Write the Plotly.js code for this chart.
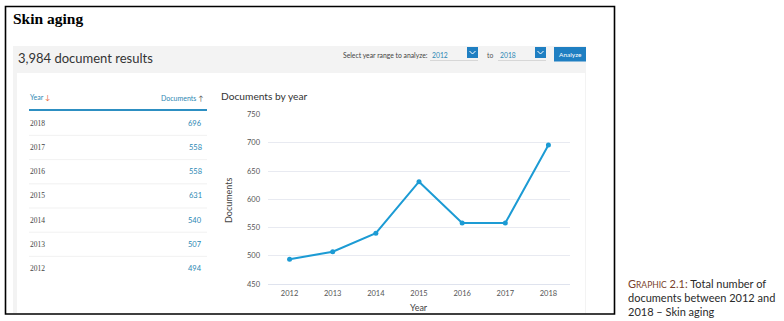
<!DOCTYPE html>
<html>
<head>
<meta charset="utf-8">
<script src="https://cdn.plot.ly/plotly-3.0.1.min.js"></script>
<style>
  html, body { margin: 0; padding: 0; background: #ffffff; }
  #chart { width: 784px; height: 321px; }
</style>
</head>
<body>
<div id="chart"></div>
<script>
// ---- data ----
const pageTitle = "Skin aging";
const resultsText = "3,984 document results";
const years = [2012, 2013, 2014, 2015, 2016, 2017, 2018];
const documents = [494, 507, 540, 631, 558, 558, 696];
const yTickVals = [450, 500, 550, 600, 650, 700, 750];
const rangeFrom = "2012";
const rangeTo = "2018";
const chartTitle = "Documents by year";
const xTitle = "Year";
const yTitle = "Documents";
const captionLabel = "G<span style='font-size:8.5px'>RAPHIC</span> 2.1:";
const captionLines = ["Total number of", "documents between 2012 and", "2018 – Skin aging"];

// ---- helpers (pixel -> paper) ----
const W = 784, H = 321;
const px = x => x / W;
const py = y => 1 - y / H;

const SANS = "Lato, 'Noto Sans', sans-serif";
const BLUE_TXT = "#2b87b3";

const shapes = [];
const annotations = [];

function rect(x0, y0, x1, y1, fill, line, lw) {
  shapes.push({type: "rect", xref: "paper", yref: "paper", layer: "below",
    x0: px(x0), x1: px(x1), y0: py(y1), y1: py(y0),
    fillcolor: fill, line: {color: line || "rgba(0,0,0,0)", width: lw || 0}});
}
function hline(x0, x1, y, color, w) {
  shapes.push({type: "line", xref: "paper", yref: "paper", layer: "below",
    x0: px(x0), x1: px(x1), y0: py(y), y1: py(y), line: {color: color, width: w}});
}
function chevron(cx, cy) {
  shapes.push({type: "path", xref: "paper", yref: "paper", layer: "above",
    path: `M ${px(cx - 3)} ${py(cy - 1.5)} L ${px(cx)} ${py(cy + 1.5)} L ${px(cx + 3)} ${py(cy - 1.5)}`,
    line: {color: "#ffffff", width: 1}});
}
function text(str, x, y, opts) {
  opts = opts || {};
  const xa = opts.xanchor || "left";
  const dx = xa === "left" ? -1.5 : (xa === "right" ? 1.5 : 0);
  annotations.push(Object.assign({
    xref: "paper", yref: "paper", x: px(x + dx), y: py(y), text: str, showarrow: false,
    xanchor: "left", yanchor: "middle",
    font: {family: SANS, size: 8, color: "#444"}
  }, opts));
}

// outer frame
rect(5.5, 6.5, 614.5, 314, "rgba(0,0,0,0)", "#000000", 1.6);
// grey panel + white card
rect(13, 46, 586, 313, "#f3f3f3");
rect(17, 73, 585, 313, "#ffffff");

// page title
text(pageTitle, 12, 18, {font: {family: "'Liberation Serif', 'Times New Roman', serif", size: 15.5, color: "#000", weight: "bold"}});
// results header
text(resultsText, 17, 58.5, {font: {family: SANS, size: 13, color: "#333"}});

// year range controls
text("Select year range to analyze:", 342, 55, {font: {family: SANS, size: 6.8, color: "#444"}});
text(rangeFrom, 431, 55, {font: {family: SANS, size: 6.8, color: BLUE_TXT}});
hline(430, 478, 60.5, "#cfcfcf", 0.8);
rect(467, 47, 478, 58, "#1f7fc2");
chevron(472.5, 52.5);
text("to", 486, 55, {font: {family: SANS, size: 6.8, color: "#555"}});
text(rangeTo, 499, 55, {font: {family: SANS, size: 6.8, color: BLUE_TXT}});
hline(498, 546, 60.5, "#cfcfcf", 0.8);
rect(535, 47, 546, 58, "#1f7fc2");
chevron(540.5, 52.5);
rect(554, 47, 586, 61.5, "#1f7fc2");
text("Analyze", 570, 54.5, {xanchor: "center", font: {family: SANS, size: 6.5, color: "#ffffff"}});

// table header
text("Year <span style='color:#e8693a'>↓</span>", 29, 97.5, {font: {family: SANS, size: 7, color: BLUE_TXT}});
text("Documents <span style='color:#555'>↑</span>", 203.5, 97.5, {xanchor: "right", font: {family: SANS, size: 7, color: BLUE_TXT}});
hline(29, 207, 110, "#2d8fc2", 1.8);

// table rows (descending years)
const rowY0 = 123.3, rowStep = 24.2;
for (let i = years.length - 1, r = 0; i >= 0; i--, r++) {
  const y = rowY0 + r * rowStep;
  text(String(years[i]), 29, y, {font: {family: "'Liberation Serif', serif", size: 7.5, color: "#444"}});
  text(String(documents[i]), 203, y, {xanchor: "right", font: {family: SANS, size: 7.5, color: BLUE_TXT}});
  if (i > 0) hline(29, 207, y + rowStep / 2, "#eeeeee", 0.8);
}

// chart title & axis titles
text(chartTitle, 220, 96, {font: {family: SANS, size: 10.2, color: "#333"}});
text(xTitle, 418.5, 307.5, {xanchor: "center", font: {family: SANS, size: 9, color: "#444"}});
text(yTitle, 228, 200, {xanchor: "center", textangle: -90, font: {family: SANS, size: 9, color: "#444"}});

// caption
const capFont = {family: SANS, size: 11, color: "#2a2a2a"};
text("<span style='color:#7a3f2c'>" + captionLabel + "</span> " + captionLines[0], 627, 283, {font: capFont});
text(captionLines[1], 627, 297, {font: capFont});
text(captionLines[2], 627, 311, {font: capFont});

const trace = {
  type: "scatter", mode: "lines+markers",
  x: years, y: documents,
  line: {color: "#1c9bd4", width: 2, shape: "linear"},
  marker: {color: "#1c9bd4", size: 5},
  hoverinfo: "skip", cliponaxis: false
};

const layout = {
  width: W, height: H,
  margin: {l: 0, r: 0, t: 0, b: 0, pad: 0},
  paper_bgcolor: "#ffffff", plot_bgcolor: "rgba(0,0,0,0)",
  showlegend: false,
  xaxis: {
    domain: [px(268), px(570)], range: [2011.5, 2018.5],
    tickvals: years, ticktext: years.map(String),
    showgrid: false, zeroline: false, showline: true, linecolor: "#dfe3ee", linewidth: 1,
    ticks: "", ticklabelstandoff: 2,
    tickfont: {family: SANS, size: 7.5, color: "#555"}, fixedrange: true
  },
  yaxis: {
    domain: [1 - 284 / H, 1 - 114.5 / H], range: [450, 750],
    tickvals: yTickVals, ticktext: yTickVals.map(String),
    showgrid: true, gridcolor: "#e8eaf1", gridwidth: 1,
    zeroline: false, showline: false, ticks: "", ticklabelstandoff: 7,
    tickfont: {family: SANS, size: 7.5, color: "#555"}, fixedrange: true
  },
  shapes: shapes,
  annotations: annotations
};

Plotly.newPlot("chart", [trace], layout, {staticPlot: true, displayModeBar: false});
</script>
</body>
</html>
